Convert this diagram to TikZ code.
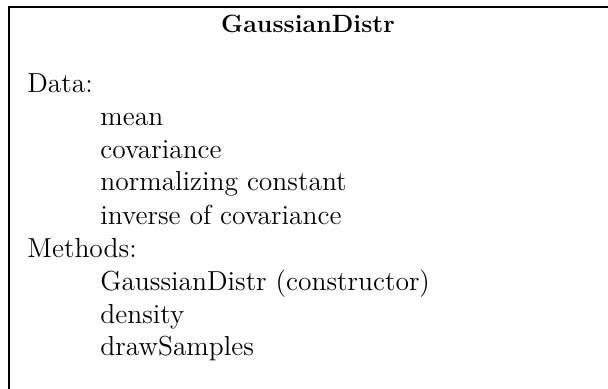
\documentclass[tikz,border=0pt]{standalone}
\begin{document}
\begin{tikzpicture}[x=0.5pt,y=-0.5pt,
  frame/.style={line width=1pt},
  ttl/.style={anchor=base,inner sep=0pt,font=\fontsize{12.5}{15}\selectfont\bfseries},
  sec/.style={anchor=base west,inner sep=0pt,font=\fontsize{13.75}{16}\selectfont},
  item/.style={anchor=base west,inner sep=0pt,font=\fontsize{13.75}{16}\selectfont}]
\useasboundingbox (0,0) rectangle (608,389);
\clip (0,0) rectangle (608,389);
\coordinate (bl) at (8.7,400);
\coordinate (tl) at (8.7,7);
\coordinate (tr) at (620,7);
\draw[frame] (bl) -- (tl) -- (tr);
\node[ttl] (title) at (308,33) {GaussianDistr};
\node[sec] (data) at (27,93) {Data:};
\node[item] (mean) at (100,126) {mean};
\node[item] (cov) at (100,159) {covariance};
\node[item] (norm) at (100,191) {normalizing constant};
\node[item] (inv) at (100,224) {inverse of covariance};
\node[sec] (methods) at (27,257) {Methods:};
\node[item] (ctor) at (100,290) {GaussianDistr (constructor)};
\node[item] (dens) at (100,323) {density};
\node[item] (draw) at (100,355) {drawSamples};
\end{tikzpicture}
\end{document}
